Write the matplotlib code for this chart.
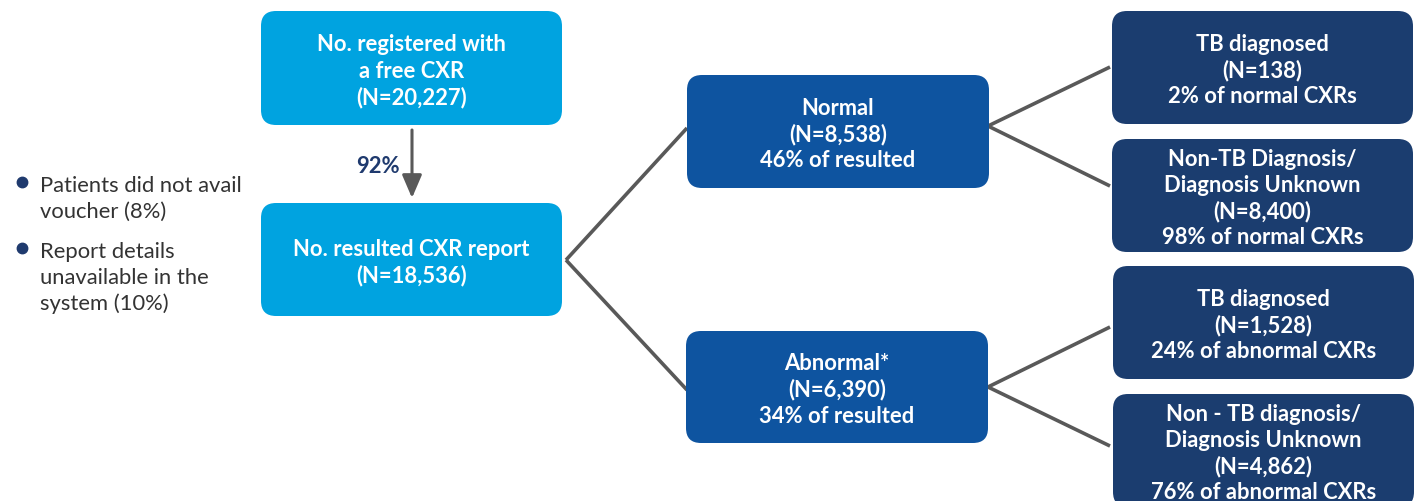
import matplotlib
matplotlib.use("Agg")
import matplotlib.pyplot as plt
from matplotlib.patches import FancyBboxPatch, FancyArrowPatch

plt.rcParams['font.family'] = ['Lato', 'DejaVu Sans']

# ---- data (text content) ----
top_box_lines = ["No. registered with", "a free CXR", "(N=20,227)"]
resulted_box_lines = ["No. resulted CXR report", "(N=18,536)"]
arrow_label = "92%"
normal_lines = ["Normal", "(N=8,538)", "46% of resulted"]
abnormal_lines = ["Abnormal*", "(N=6,390)", "34% of resulted"]
normal_tb_lines = ["TB diagnosed", "(N=138)", "2% of normal CXRs"]
normal_nontb_lines = ["Non-TB Diagnosis/", "Diagnosis Unknown", "(N=8,400)", "98% of normal CXRs"]
abnormal_tb_lines = ["TB diagnosed", "(N=1,528)", "24% of abnormal CXRs"]
abnormal_nontb_lines = ["Non - TB diagnosis/", "Diagnosis Unknown", "(N=4,862)", "76% of abnormal CXRs"]
bullet_items = [["Patients did not avail", "voucher (8%)"],
                ["Report details", "unavailable in the", "system (10%)"]]

# ---- styles ----
C_LIGHT = "#00A3E0"
C_MID = "#0E54A0"
C_DARK = "#1B3D6F"
C_LINE = "#595959"
C_TEXT = "#333333"
C_NAVY = "#1F3A6E"
FS = 15.8
LS = 26.3

fig = plt.figure(figsize=(14.2, 5.02), dpi=100)
ax = fig.add_axes([0, 0, 1, 1])
ax.set_xlim(0, 1420)
ax.set_ylim(502, 0)
ax.axis('off')


def box(x0, y0, x1, y1, color, lines):
    p = FancyBboxPatch((x0, y0), x1 - x0, y1 - y0,
                       boxstyle="round,pad=0,rounding_size=15",
                       fc=color, ec='none', zorder=2, clip_on=False)
    ax.add_patch(p)
    cx = (x0 + x1) / 2
    cy = (y0 + y1) / 2
    n = len(lines)
    for i, t in enumerate(lines):
        y = cy + (i - (n - 1) / 2) * LS
        ax.text(cx, y, t, ha='center', va='center_baseline', color='white',
                fontsize=FS, fontweight='bold', zorder=3)


# connector lines
def connect(p0, p1):
    ax.plot([p0[0], p1[0]], [p0[1], p1[1]], color=C_LINE, lw=2.6,
            solid_capstyle='butt', zorder=1)

connect((566, 261), (687, 129))
connect((566, 261), (687, 391))
connect((988, 127), (1110, 68))
connect((988, 127), (1110, 187))
connect((988, 388), (1110, 328))
connect((988, 388), (1110, 447))

box(261, 12, 562, 126, C_LIGHT, top_box_lines)
box(261, 204, 562, 317, C_LIGHT, resulted_box_lines)
box(687, 76, 989, 189, C_MID, normal_lines)
box(686, 332, 988, 444, C_MID, abnormal_lines)
box(1112, 12, 1413, 125, C_DARK, normal_tb_lines)
box(1112, 140, 1413, 253, C_DARK, normal_nontb_lines)
box(1113, 267, 1414, 380, C_DARK, abnormal_tb_lines)
box(1113, 395, 1414, 508, C_DARK, abnormal_nontb_lines)

# arrow
arr = FancyArrowPatch((412, 131), (412, 199), arrowstyle='-|>,head_length=14,head_width=6',
                      mutation_scale=1, color=C_LINE, lw=2.2, zorder=2,
                      shrinkA=0, shrinkB=0)
ax.add_patch(arr)
ax.text(378, 165, arrow_label, ha='center', va='center_baseline', color=C_NAVY,
        fontsize=FS, fontweight='bold')

# bullets
y = 184
for item in bullet_items:
    ax.plot(22, y - 1, 'o', color=C_NAVY, ms=7.5, zorder=3)
    for j, t in enumerate(item):
        ax.text(40, y + j * 26, t, ha='left', va='center_baseline', color=C_TEXT,
                fontsize=15.8)
    y += len(item) * 26 + 14

fig.savefig("out.png", dpi=100)
